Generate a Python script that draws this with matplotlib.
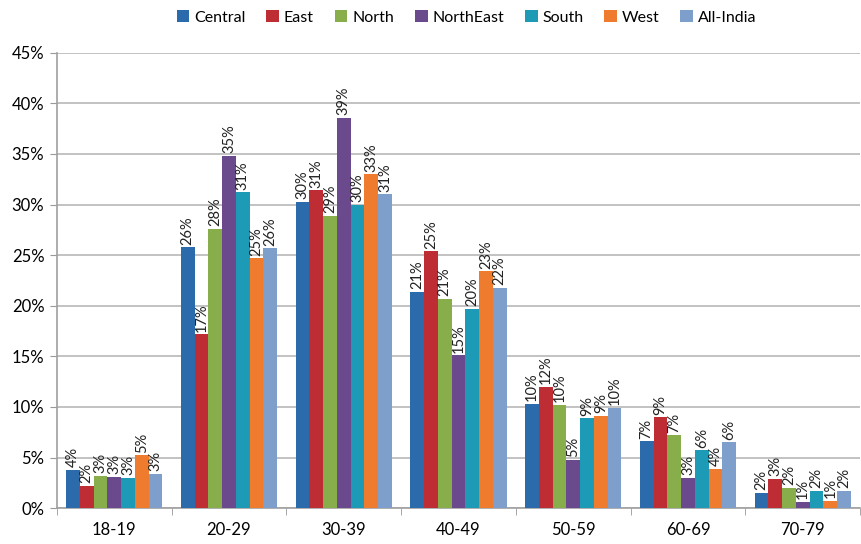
import numpy as np
import matplotlib
matplotlib.use("Agg")
import matplotlib.pyplot as plt
from matplotlib.ticker import PercentFormatter

plt.rcParams['font.family'] = ['Lato', 'DejaVu Sans']

age_groups = ['18-19', '20-29', '30-39', '40-49', '50-59', '60-69', '70-79']
regions = ['Central', 'East', 'North', 'NorthEast', 'South', 'West', 'All-India']
colors = ['#2B6AAB', '#BD2D33', '#87AE4A', '#6A4A8D', '#1D9BB6', '#EF7B2E', '#7E9ECB']

# share of each age group (%), per region
central = [3.8, 25.8, 30.3, 21.4, 10.3, 6.6, 1.5]
east = [2.2, 17.2, 31.4, 25.4, 12.0, 9.0, 2.9]
north = [3.2, 27.6, 28.9, 20.7, 10.2, 7.2, 2.0]
northeast = [3.1, 34.8, 38.6, 15.1, 4.8, 3.0, 0.6]
south = [3.0, 31.2, 30.0, 19.7, 8.9, 5.7, 1.7]
west = [5.2, 24.7, 33.0, 23.4, 9.1, 3.9, 0.7]
all_india = [3.4, 25.7, 31.0, 21.8, 9.9, 6.5, 1.7]

series = [central, east, north, northeast, south, west, all_india]

fig = plt.figure(figsize=(8.61, 5.44), dpi=100)
ax = fig.add_axes([0.066, 0.066, 0.933, 0.837])

x = np.arange(len(age_groups))
w = 0.12
for i, (name, vals, col) in enumerate(zip(regions, series, colors)):
    pos = x + (i - 3) * w
    bars = ax.bar(pos, vals, w, color=col, label=name, zorder=3)
    for b, v in zip(bars, vals):
        ax.text(b.get_x() + b.get_width() / 2, v + 0.25, '%d%%' % round(v),
                rotation=90, ha='center', va='bottom', fontsize=10.5, color='#222222')

ax.set_xlim(-0.5, len(age_groups) - 0.5)
ax.set_ylim(0, 45)
ax.set_yticks(np.arange(0, 46, 5))
ax.yaxis.set_major_formatter(PercentFormatter(decimals=0))
ax.set_xticks(x)
ax.set_xticklabels(age_groups)
ax.set_xticks(np.arange(-0.5, len(age_groups), 1), minor=True)
ax.tick_params(axis='x', which='major', length=0, pad=10, labelsize=12)
ax.tick_params(axis='x', which='minor', length=5, color='#999999', direction='out')
ax.tick_params(axis='y', length=5, color='#999999', labelsize=12, pad=4)

ax.grid(axis='y', color='#B8B8B8', linewidth=1.2, zorder=0)
for s in ['top', 'right']:
    ax.spines[s].set_visible(False)
for s in ['left', 'bottom']:
    ax.spines[s].set_color('#A0A0A0')
    ax.spines[s].set_linewidth(1.2)

ax.legend(loc='upper center', bbox_to_anchor=(0.51, 1.125), ncol=7, frameon=False,
          fontsize=11.5, handlelength=0.8, handleheight=0.8, handletextpad=0.3,
          columnspacing=1.3)

fig.savefig('out.png', dpi=100)
